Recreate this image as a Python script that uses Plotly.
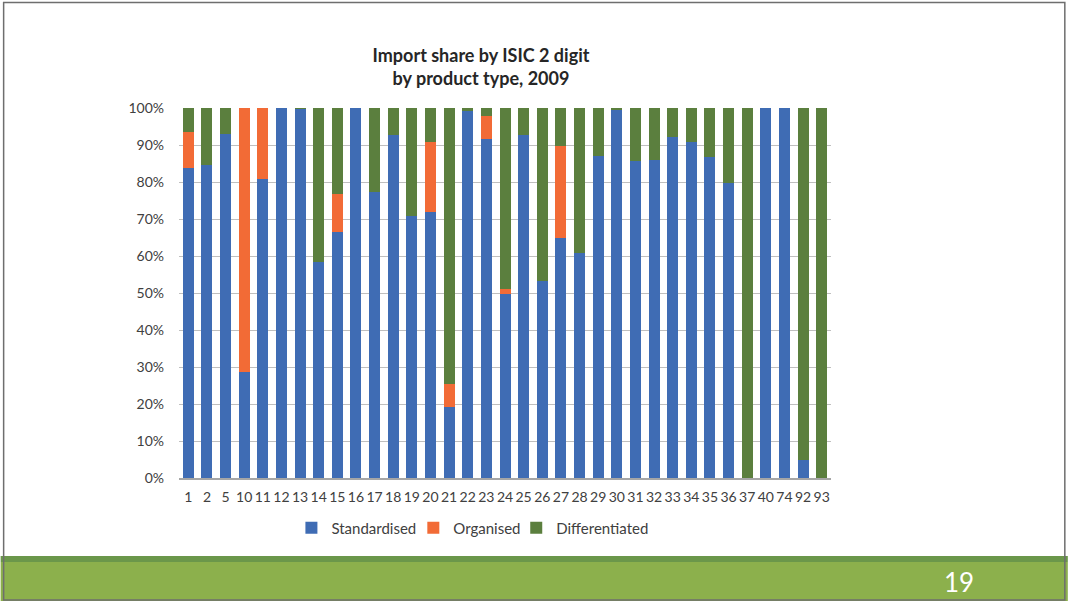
import plotly.graph_objects as go

categories = ["1", "2", "5", "10", "11", "12", "13", "14", "15", "16", "17", "18", "19", "20",
              "21", "22", "23", "24", "25", "26", "27", "28", "29", "30", "31", "32", "33", "34",
              "35", "36", "37", "40", "74", "92", "93"]

standardised = [83.8, 84.7, 93.1, 28.7, 80.9, 100.0, 99.8, 58.3, 66.6, 100.0, 77.2, 92.6, 70.9, 71.8,
                19.2, 99.2, 91.7, 49.7, 92.6, 53.2, 65.0, 60.9, 86.9, 99.4, 85.6, 85.9, 92.1, 90.9,
                86.7, 79.6, 0.0, 100.0, 100.0, 5.0, 0.0]

organised = [9.7, 0.0, 0.0, 71.3, 19.1, 0.0, 0.0, 0.0, 10.1, 0.0, 0.0, 0.0, 0.0, 18.9,
             6.1, 0.0, 6.1, 1.4, 0.0, 0.0, 24.7, 0.0, 0.0, 0.0, 0.0, 0.0, 0.0, 0.0,
             0.0, 0.0, 0.0, 0.0, 0.0, 0.0, 0.0]

differentiated = [round(100 - s - o, 1) for s, o in zip(standardised, organised)]

y_ticks = [0, 10, 20, 30, 40, 50, 60, 70, 80, 90, 100]

series_names = ["Standardised", "Organised", "Differentiated"]
colors = ["#3f6cb4", "#f26b36", "#5b7f3e"]

W, H = 1068, 601
PL, PR, PT, PB = 178.5, 831.0, 108.0, 478.0


def px(x):
    return (x - PL) / (PR - PL)


def py(y):
    return (PB - y) / (PB - PT)


FONT = "Lato, 'Open Sans', sans-serif"

legend_ids = ["legend", "legend2", "legend3"]
legend_left = [291, 413, 516]

fig = go.Figure()
for name, vals, col, lid in zip(series_names, [standardised, organised, differentiated], colors, legend_ids):
    fig.add_trace(go.Bar(x=categories, y=vals, name=name, legend=lid,
                         marker=dict(color=col, line=dict(width=0))))

legend_common = dict(
    orientation="h",
    xanchor="left",
    y=py(528), yanchor="middle",
    font=dict(family=FONT, size=15, color="#404040"),
    itemwidth=30,
    bgcolor="rgba(0,0,0,0)",
)

layout_legends = {}
for lid, lx in zip(legend_ids, legend_left):
    layout_legends[lid] = dict(legend_common, x=px(lx))

fig.update_layout(
    width=W, height=H,
    barmode="stack",
    bargap=0.41,
    paper_bgcolor="white",
    plot_bgcolor="white",
    margin=dict(l=PL, r=W - PR, t=PT, b=H - PB, autoexpand=False),
    font=dict(family=FONT, size=13, color="#595959"),
    title=dict(
        text="<b>Import share by ISIC 2 digit<br>by product type, 2009</b>",
        x=481 / W, xref="container", xanchor="center",
        y=1 - 62 / H, yref="container", yanchor="middle",
        font=dict(family=FONT, size=18, color="#262626"),
    ),
    showlegend=True,
    xaxis=dict(
        type="category",
        tickangle=0,
        showgrid=False,
        showline=True, linecolor="#a6a6a6", linewidth=2,
        ticks="",
        ticklabelstandoff=5,
        tickfont=dict(family=FONT, size=14, color="#404040"),
        fixedrange=True,
    ),
    yaxis=dict(
        range=[0, 100],
        tickvals=y_ticks,
        ticktext=[f"{v}%" for v in y_ticks],
        showgrid=True, gridcolor="#bfbfbf", gridwidth=1.3,
        zeroline=False,
        showline=False,
        ticks="",
        ticklabelstandoff=14,
        tickfont=dict(family=FONT, size=14, color="#404040"),
        fixedrange=True,
    ),
    shapes=[
        dict(type="rect", xref="paper", yref="paper",
             x0=px(0), x1=px(W), y0=py(562), y1=py(556),
             fillcolor="#6b974a", line=dict(width=0), layer="above"),
        dict(type="rect", xref="paper", yref="paper",
             x0=px(0), x1=px(W), y0=py(601), y1=py(562),
             fillcolor="#8cb04c", line=dict(width=0), layer="above"),
        dict(type="rect", xref="paper", yref="paper",
             x0=px(3), x1=px(1065), y0=py(600), y1=py(2.5),
             fillcolor="rgba(0,0,0,0)", line=dict(color="#6e6e6e", width=1.5), layer="above"),
    ],
    annotations=[
        dict(text="19", xref="paper", yref="paper", x=px(959), y=py(582),
             xanchor="center", yanchor="middle", showarrow=False,
             font=dict(family=FONT, size=26, color="white")),
    ],
    **layout_legends,
)

fig.write_html("out.html", config={"displayModeBar": False},
               post_script="document.body.style.margin='0';document.body.style.overflow='hidden';")
